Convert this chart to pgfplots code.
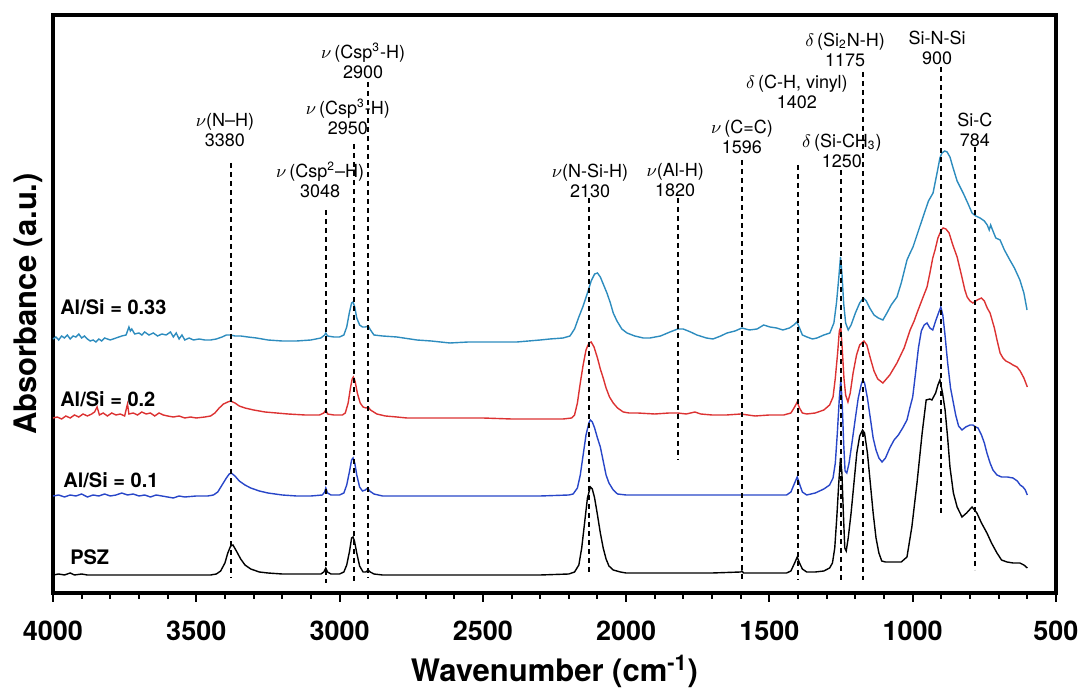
\documentclass[border=0pt]{standalone}
\usepackage{fontspec}
\setmainfont{TeX Gyre Heros}
\usepackage{pgfplots}
\pgfplotsset{compat=1.18}
\definecolor{cthree}{RGB}{45,140,190}
\definecolor{ctwo}{RGB}{220,50,50}
\definecolor{cone}{RGB}{40,70,200}
\begin{document}
\begin{tikzpicture}
\useasboundingbox (0,0) rectangle (540.5pt,344.5pt);
\begin{axis}[
  at={(26.5pt,48pt)}, anchor=south west,
  scale only axis, width=501.5pt, height=289pt,
  xmin=500, xmax=4000, ymin=0, ymax=578,
  x dir=reverse,
  xtick={500,1000,...,4000}, minor x tick num=4,
  ytick=\empty,
  xtick pos=left, tick align=outside,
  major tick length=4.5pt, minor tick length=3pt,
  every tick/.append style={line width=1pt, black},
  axis line style={line width=1.8pt},
  /pgf/number format/1000 sep={},
  /pgf/number format/assume math mode=true,
  xticklabel style={font=\bfseries\fontsize{13.5}{14}\selectfont, anchor=north, inner sep=0pt, yshift=-9.5pt},
  xlabel={Wavenumber (cm\textsuperscript{-1})},
  ylabel={Absorbance (a.u.)},
  xlabel style={font=\bfseries\fontsize{15.5}{16}\selectfont, at={(axis description cs:0.5,-0.136)}, anchor=center},
  ylabel style={font=\bfseries\fontsize{15.5}{16}\selectfont, at={(axis description cs:-0.025,0.5)}, anchor=center},
  clip=false,
]
% PSZ
\addplot[black, line width=0.7pt] coordinates {
(4000,18) (3980,19) (3960,18) (3940,20) (3925,18) (3900,19) (3880,18) (3800,18) (3700,18) (3600,18) (3500,18) (3450,18) (3430,19) (3415,22) (3400,30) (3390,40) (3380,47) (3372,48) (3360,42) (3345,34) (3330,28) (3310,24) (3280,21) (3250,20) (3200,19) (3150,19) (3100,19) (3065,19) (3055,21) (3048,25) (3042,21) (3030,19) (3000,19) (2985,21) (2975,28) (2965,42) (2958,55) (2953,56) (2948,52) (2940,40) (2930,27) (2918,21) (2908,21) (2900,23) (2893,21) (2880,19) (2850,18) (2800,18) (2700,18) (2600,18) (2500,18) (2400,18) (2300,18) (2200,19) (2180,21) (2165,28) (2155,45) (2145,70) (2135,95) (2125,106) (2118,104) (2110,95) (2100,78) (2090,60) (2080,45) (2070,34) (2060,27) (2045,23) (2020,21) (2000,20) (1900,20) (1800,20) (1700,20) (1600,21) (1596,22) (1590,20) (1500,20) (1440,20) (1425,22) (1412,30) (1403,36) (1395,30) (1385,24) (1370,21) (1340,21) (1310,22) (1290,25) (1280,30) (1272,45) (1265,75) (1258,110) (1252,135) (1247,120) (1242,80) (1237,45) (1232,42) (1225,55) (1215,80) (1205,110) (1195,140) (1185,157) (1175,163) (1168,160) (1158,140) (1148,110) (1138,80) (1128,55) (1118,40) (1108,32) (1095,31) (1070,31) (1040,31) (1020,36) (1003,66) (985,110) (967,160) (953,193) (940,194) (933,193) (920,200) (912,208) (905,213) (896,200) (887,183) (878,155) (870,126) (858,100) (845,86) (828,76) (812,80) (793,86) (776,80) (760,70) (741,60) (725,50) (706,40) (690,33) (671,31) (650,30) (626,30) (612,28) (600,25)
};
% Al/Si = 0.1
\addplot[cone, line width=0.7pt] coordinates {
(4000,97) (3980,98) (3960,96) (3940,98) (3920,97) (3900,99) (3880,96) (3860,98) (3840,97) (3820,99) (3800,97) (3780,98) (3760,100) (3740,98) (3720,99) (3700,97) (3680,98) (3660,96) (3640,98) (3620,97) (3600,96) (3580,95) (3560,97) (3540,96) (3500,97) (3460,97) (3440,98) (3425,101) (3410,108) (3395,115) (3385,119) (3378,120) (3365,117) (3350,112) (3330,108) (3310,105) (3280,102) (3250,100) (3200,98) (3150,97) (3100,97) (3060,98) (3052,101) (3048,105) (3042,100) (3030,98) (3000,98) (2985,100) (2975,108) (2965,122) (2958,133) (2953,135) (2947,130) (2940,118) (2930,106) (2920,102) (2910,103) (2902,105) (2895,102) (2880,99) (2850,97) (2800,97) (2700,97) (2600,97) (2500,97) (2400,97) (2300,97) (2200,98) (2185,99) (2170,105) (2160,118) (2150,138) (2140,158) (2130,170) (2125,173) (2118,171) (2110,165) (2100,155) (2090,146) (2080,132) (2070,118) (2060,110) (2045,103) (2030,99) (2000,98) (1900,98) (1800,98) (1700,98) (1600,98) (1500,98) (1440,98) (1425,101) (1412,110) (1403,116) (1395,109) (1385,101) (1370,98) (1340,100) (1310,104) (1290,108) (1278,115) (1270,130) (1263,160) (1256,195) (1251,213) (1246,190) (1241,150) (1236,122) (1230,120) (1222,130) (1212,150) (1200,175) (1190,195) (1180,208) (1174,213) (1168,210) (1158,195) (1148,175) (1138,155) (1128,143) (1118,135) (1107,131) (1095,135) (1080,145) (1065,153) (1050,158) (1035,165) (1020,173) (1010,185) (1000,196) (990,220) (980,245) (970,262) (960,268) (950,270) (940,265) (930,263) (920,272) (910,280) (902,286) (895,278) (888,260) (878,230) (868,205) (860,193) (850,178) (840,167) (828,163) (815,166) (800,168) (790,168) (780,166) (772,165) (760,158) (750,150) (741,140) (730,130) (720,123) (706,118) (690,116) (670,116) (650,115) (635,112) (625,108) (615,106) (607,103) (600,98)
};
% Al/Si = 0.2
\addplot[ctwo, line width=0.7pt] coordinates {
(4000,175) (3985,176) (3970,174) (3955,177) (3940,175) (3925,178) (3910,176) (3895,179) (3880,177) (3865,179) (3855,181) (3846,186) (3838,178) (3825,180) (3810,177) (3795,180) (3780,178) (3765,179) (3750,177) (3740,189) (3735,179) (3720,180) (3705,178) (3690,181) (3675,179) (3660,180) (3645,177) (3630,180) (3615,178) (3600,177) (3580,176) (3560,177) (3540,175) (3520,176) (3500,175) (3470,176) (3450,177) (3435,180) (3420,185) (3405,189) (3390,191) (3380,192) (3365,190) (3350,187) (3330,185) (3300,183) (3260,181) (3220,180) (3180,179) (3120,178) (3070,178) (3055,180) (3048,183) (3042,179) (3020,178) (2990,178) (2980,180) (2970,190) (2962,205) (2956,214) (2952,216) (2946,212) (2938,200) (2928,190) (2918,186) (2908,185) (2900,186) (2892,183) (2870,179) (2840,177) (2800,176) (2765,175) (2700,175) (2600,175) (2500,175) (2400,174) (2300,174) (2220,174) (2190,175) (2180,178) (2170,190) (2160,210) (2150,228) (2140,243) (2130,250) (2122,251) (2112,246) (2100,235) (2090,224) (2080,215) (2070,205) (2058,196) (2045,190) (2030,185) (2010,181) (1990,180) (1960,180) (1900,179) (1850,180) (1820,180) (1790,179) (1760,181) (1740,179) (1700,178) (1650,178) (1600,179) (1550,177) (1500,178) (1450,178) (1425,180) (1412,186) (1403,191) (1395,185) (1385,180) (1370,179) (1340,180) (1310,183) (1290,188) (1278,196) (1270,215) (1262,240) (1256,262) (1251,266) (1246,245) (1240,215) (1234,198) (1226,191) (1218,200) (1208,220) (1196,238) (1185,248) (1170,252) (1160,248) (1148,235) (1135,222) (1122,214) (1104,210) (1080,218) (1055,230) (1030,245) (1009,263) (995,272) (985,280) (965,295) (950,306) (940,320) (930,335) (922,343) (912,355) (900,363) (894,365) (884,364) (873,360) (860,348) (845,336) (830,318) (818,303) (810,296) (800,292) (790,290) (775,293) (760,295) (750,292) (740,285) (730,280) (715,265) (705,252) (695,240) (685,235) (675,232) (661,230) (650,228) (636,226) (625,222) (612,215) (600,206)
};
% Al/Si = 0.33
\addplot[cthree, line width=0.7pt] coordinates {
(4000,254) (3990,256) (3980,253) (3970,257) (3960,255) (3950,258) (3940,254) (3930,257) (3920,256) (3910,259) (3900,255) (3890,257) (3880,254) (3870,252) (3860,253) (3850,251) (3840,254) (3830,252) (3820,255) (3800,253) (3780,255) (3760,257) (3745,258) (3735,266) (3730,262) (3725,264) (3715,259) (3700,260) (3690,258) (3680,261) (3665,258) (3650,260) (3635,257) (3620,259) (3605,258) (3590,261) (3580,256) (3570,260) (3560,254) (3550,258) (3540,253) (3525,255) (3510,253) (3490,254) (3470,253) (3450,253) (3430,254) (3410,256) (3395,258) (3380,258) (3365,257) (3345,257) (3320,256) (3290,255) (3250,253) (3200,252) (3150,252) (3100,253) (3065,255) (3052,258) (3048,260) (3042,257) (3020,256) (3000,256) (2985,258) (2975,266) (2966,280) (2958,290) (2953,291) (2947,286) (2940,275) (2930,268) (2920,266) (2910,266) (2900,267) (2892,263) (2880,258) (2850,257) (2800,256) (2730,253) (2680,252) (2615,250) (2550,251) (2450,251) (2381,251) (2300,253) (2266,254) (2220,255) (2196,257) (2180,264) (2165,276) (2150,287) (2135,300) (2122,312) (2110,319) (2100,320) (2090,316) (2080,309) (2067,300) (2055,290) (2045,280) (2032,272) (2015,264) (1997,260) (1970,257) (1940,255) (1917,255) (1880,257) (1847,261) (1820,264) (1801,264) (1775,261) (1753,258) (1720,255) (1697,254) (1670,257) (1648,260) (1620,262) (1596,265) (1570,263) (1543,264) (1520,268) (1498,266) (1475,265) (1453,263) (1430,265) (1415,268) (1404,271) (1395,265) (1385,258) (1369,256) (1350,254) (1334,255) (1310,258) (1289,260) (1275,270) (1266,290) (1258,315) (1252,336) (1247,320) (1241,290) (1234,270) (1225,263) (1215,268) (1200,280) (1185,290) (1172,295) (1162,292) (1150,285) (1135,278) (1120,275) (1104,273) (1090,280) (1075,288) (1055,296) (1040,310) (1020,333) (1009,340) (999,346) (985,358) (964,376) (945,392) (929,400) (915,420) (905,435) (898,440) (888,442) (880,441) (870,436) (860,426) (845,412) (824,400) (808,390) (793,380) (780,377) (765,375) (750,372) (740,368) (733,363) (728,368) (720,362) (710,355) (695,353) (680,343) (661,333) (645,325) (626,313) (612,300) (601,283)
};
% dashed marker lines
\pgfplotsset{dl/.style={black, line width=1pt, dash pattern=on 2.5pt off 2pt}}
\addplot[dl] coordinates {(3380,430) (3380,15)};
\addplot[dl] coordinates {(3048,383) (3048,10)};
\addplot[dl] coordinates {(2950,449) (2950,10)};
\addplot[dl] coordinates {(2900,511) (2900,15)};
\addplot[dl] coordinates {(2130,395) (2130,21)};
\addplot[dl] coordinates {(1820,395) (1820,133)};
\addplot[dl] coordinates {(1596,433) (1596,13)};
\addplot[dl] coordinates {(1402,428) (1402,13)};
\addplot[dl] coordinates {(1250,423) (1250,13)};
\addplot[dl] coordinates {(1175,521) (1175,13)};
\addplot[dl] coordinates {(900,526) (900,80)};
\addplot[dl] coordinates {(784,446) (784,23)};
% annotations
\tikzset{ann/.style={font=\fontsize{9}{10}\selectfont, align=center, inner sep=0pt, anchor=center}}
\node[ann] at (axis cs:3400,463) {$\nu$(N--H)\\3380};
\node[ann] at (axis cs:3068,413) {$\nu$\,(Csp\textsuperscript{2}--H)\\3048};
\node[ann] at (axis cs:2971,476) {$\nu$\,(Csp\textsuperscript{3}-H)\\2950};
\node[ann] at (axis cs:2918,532) {$\nu$\,(Csp\textsuperscript{3}-H)\\2900};
\node[ann] at (axis cs:2126,412) {$\nu$(N-Si-H)\\2130};
\node[ann] at (axis cs:1829,413) {$\nu$(Al-H)\\1820};
\node[ann] at (axis cs:1596,456) {$\nu$\,(C=C)\\1596};
\node[ann] at (axis cs:1404,501) {$\delta$\,(C-H, vinyl)\\1402};
\node[ann] at (axis cs:1247,442) {$\delta$\,(Si-CH\textsubscript{3})\\1250};
\node[ann] at (axis cs:1236,543) {$\delta$\,(Si\textsubscript{2}N-H)\\1175};
\node[ann] at (axis cs:915,545) {Si-N-Si\\900};
\node[ann] at (axis cs:783,463) {Si-C\\784};
% series labels
\tikzset{lab/.style={font=\bfseries\fontsize{10}{12}\selectfont, anchor=west, inner sep=0pt}}
\node[lab] at (axis cs:3976,286) {Al/Si = 0.33};
\node[lab] at (axis cs:3976,194) {Al/Si = 0.2};
\node[lab] at (axis cs:3965,113) {Al/Si = 0.1};
\node[lab] at (axis cs:3941,36) {PSZ};
\end{axis}
\end{tikzpicture}
\end{document}
